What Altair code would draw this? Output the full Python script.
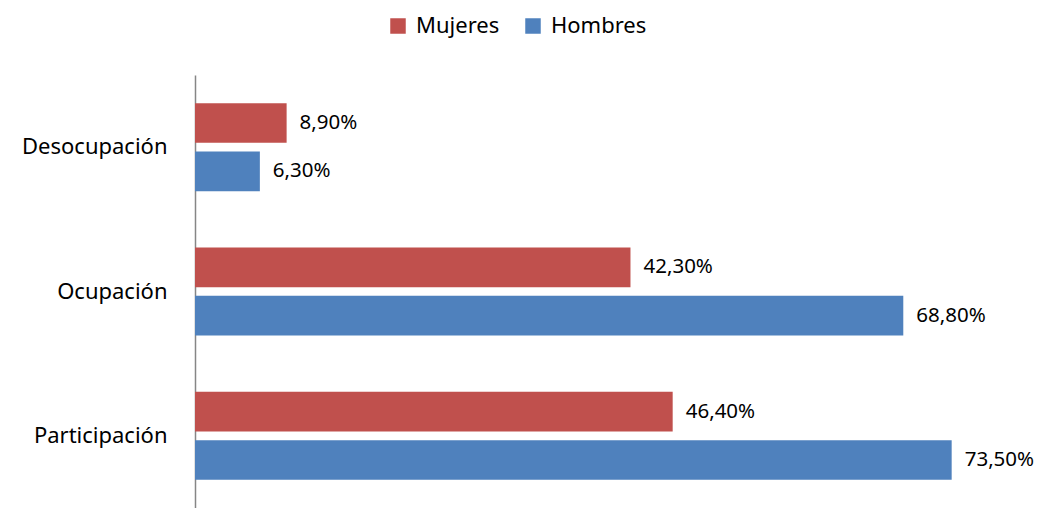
import altair as alt
import pandas as pd

categories = ["Desocupación", "Ocupación", "Participación"]
series = ["Mujeres", "Hombres"]
mujeres = [8.9, 42.3, 46.4]
hombres = [6.3, 68.8, 73.5]
colors = ["#C0504D", "#4F81BD"]

rows = []
for c, m, h in zip(categories, mujeres, hombres):
    for s, v in zip(series, [m, h]):
        rows.append({"cat": c, "serie": s, "valor": v,
                     "label": f"{v:.2f}".replace(".", ",") + "%"})
df = pd.DataFrame(rows)

FONT = "Noto Sans"
XDOM = [0, 78]

base = alt.Chart(df).encode(
    y=alt.Y("cat:N", sort=categories, title=None,
            scale=alt.Scale(paddingInner=0.39, paddingOuter=0.195),
            axis=alt.Axis(ticks=False, labelPadding=28, labelFontSize=22,
                          labelFont=FONT, labelColor="#000000",
                          domainColor="#868686", domainWidth=1.5,
                          labelLimit=300)),
    yOffset=alt.YOffset("serie:N", sort=series,
                        scale=alt.Scale(paddingInner=0.18, paddingOuter=0)),
)

bars = base.mark_bar().encode(
    x=alt.X("valor:Q", scale=alt.Scale(domain=XDOM), axis=None),
    color=alt.Color("serie:N", sort=series,
                    scale=alt.Scale(domain=series, range=colors),
                    legend=alt.Legend(title=None, orient="none", direction="horizontal",
                                      legendX=192, legendY=-60,
                                      symbolType="square", symbolSize=240,
                                      symbolStrokeWidth=0, labelOffset=7,
                                      labelFontSize=22, labelFont=FONT,
                                      labelColor="#000000", columnPadding=22)),
)

texts = base.mark_text(align="left", baseline="middle", dx=13, fontSize=20.5,
                       font=FONT, color="#000000").encode(
    x=alt.X("valor:Q", scale=alt.Scale(domain=XDOM), axis=None),
    text="label:N",
)

chart = alt.layer(bars, texts).properties(
    width=803, height=433,
    autosize=alt.AutoSizeParams(type="none"),
    padding={"left": 187, "top": 67, "right": 38, "bottom": 0},
).configure(background="#FFFFFF").configure_view(stroke=None)

chart.save("out.html", embed_options={"renderer": "svg", "actions": False})
